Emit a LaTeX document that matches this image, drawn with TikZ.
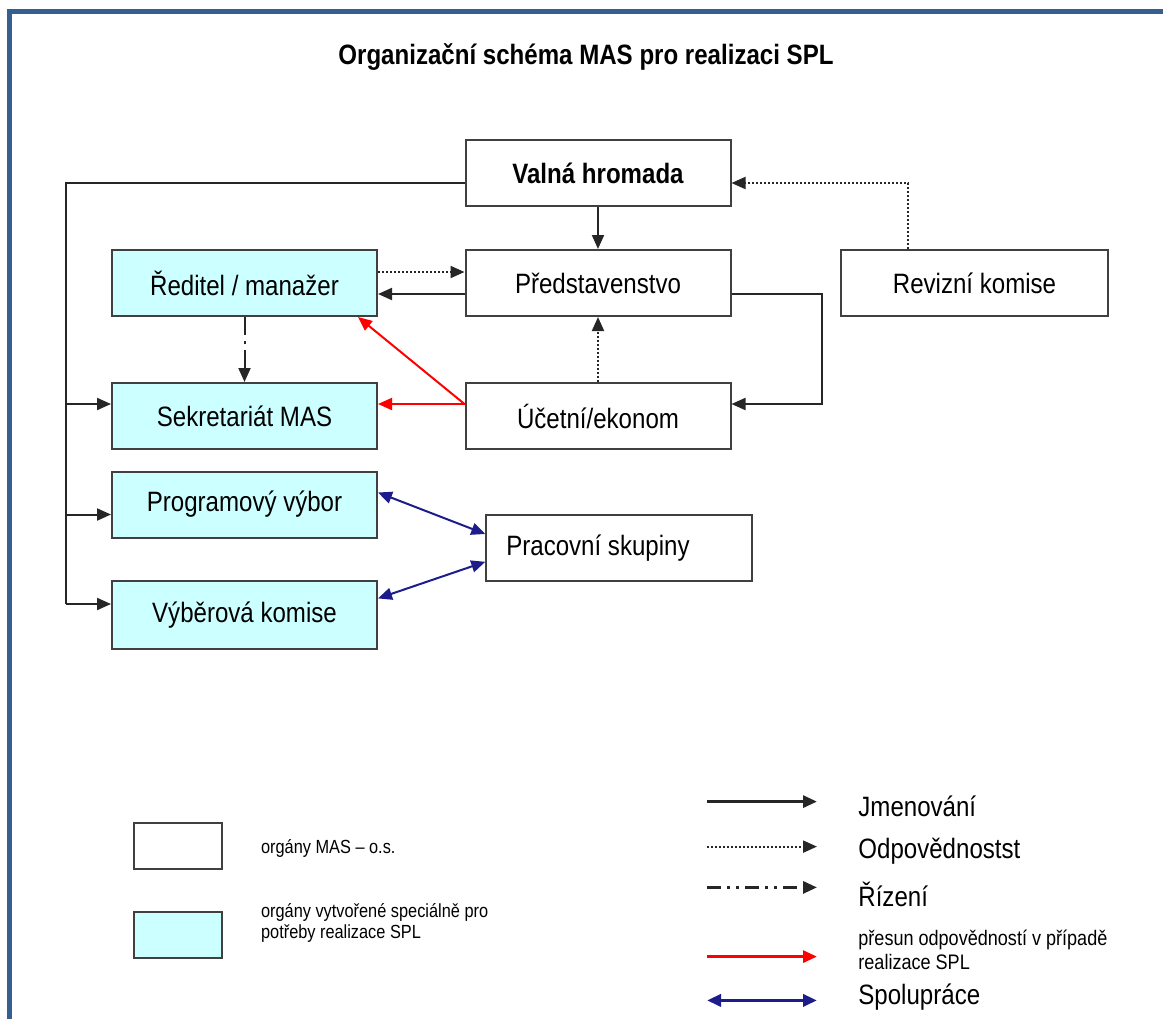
\documentclass[tikz,border=0pt]{standalone}
\usepackage{fontspec}
\setmainfont{Liberation Sans}[FakeStretch=0.86]
\usetikzlibrary{arrows.meta,calc,positioning,shapes}
\definecolor{splmodra}{HTML}{CCFFFF}
\definecolor{ramecek}{HTML}{365F91}
\definecolor{tmavemodra}{HTML}{1C1C8A}
\tikzstyle{organ} = [rectangle, draw=black!75, line width=1pt, fill=white, minimum width=132.5pt, minimum height=33pt, inner sep=0pt, font=\fontsize{14}{17}\selectfont]
\tikzstyle{splorgan} = [organ, fill=splmodra]
\tikzstyle{jmenovani} = [line width=1pt, black!85, -{Triangle[length=7pt,width=6pt]}]
\tikzstyle{odpovednost} = [jmenovani, dash pattern=on 1pt off 1pt]
\tikzstyle{rizeni} = [jmenovani, dash pattern=on 9pt off 3pt on 1.5pt off 3pt]
\tikzstyle{presun} = [jmenovani, red]
\tikzstyle{spoluprace} = [line width=1pt, tmavemodra, {Triangle[length=7pt,width=6pt]}-{Triangle[length=7pt,width=6pt]}]
\tikzstyle{popis} = [inner sep=0pt, anchor=west, align=left, font=\fontsize{14}{17}\selectfont]
\tikzstyle{malypopis} = [popis, font=\fontsize{9.5}{10.5}\selectfont]

\begin{document}
\begin{tikzpicture}[x=0.5pt, y=-0.5pt] %[every node/.style={draw}]
\useasboundingbox (0,0) rectangle (1163,1019);
\draw [ramecek, line width=2.5pt] (9.5,1019) -- (9.5,11.5) -- (1163,11.5);
\draw (586,57) node (nadpis) [font=\fontsize{14}{17}\selectfont\bfseries] {Organizační schéma MAS pro realizaci SPL};
\draw (598,173) node (valna) [organ, font=\fontsize{14}{17}\selectfont\bfseries] {Valná hromada};
\draw (598,283) node (predst) [organ] {Představenstvo};
\draw (244.5,283) node (reditel) [splorgan] {Ředitel / manažer};
\draw (974.5,283) node (revize) [organ, minimum width=133.5pt] {Revizní komise};
\draw (244.5,416) node (sekretariat) [splorgan] {Sekretariát MAS};
\draw (598,416) node (ucetni) [organ] {Účetní/ekonom};
\draw (244.5,504.5) node (program) [splorgan] {Programový výbor};
\draw (244.5,615) node (vyber) [splorgan, minimum height=34pt] {Výběrová komise};
\draw (619.3,548) node (pracovni) [organ, minimum width=133pt] {\makebox[113pt][l]{Pracovní skupiny}};
\draw [jmenovani] (valna) -- (predst);
\draw [odpovednost] ([yshift=5.5pt]reditel.east) -- ([yshift=5.5pt]predst.west);
\draw [jmenovani] ([yshift=-5.5pt]predst.west) -- ([yshift=-5.5pt]reditel.east);
\draw [rizeni] (reditel) -- (sekretariat);
\draw [odpovednost] (ucetni) -- (predst);
\coordinate (presunbod) at ([yshift=6pt]ucetni.west);
\draw [presun] (presunbod) -- (presunbod -| sekretariat.east);
\draw [presun] (presunbod) -- ([xshift=-10pt]reditel.south east);
\draw [odpovednost] ([xshift=34pt]revize.north west) |- ([yshift=-5pt]valna.east);
\draw [jmenovani] ([yshift=-5.5pt]predst.east) -- ++(90,0) |- ([yshift=6pt]ucetni.east);
\coordinate (kmen) at ([xshift=-22.3pt,yshift=5.5pt]vyber.west);
\draw [line width=1pt, black!85] ([yshift=-5pt]valna.west) -| (kmen);
\draw [jmenovani] (kmen |- presunbod) -- (presunbod -| sekretariat.west);
\draw [jmenovani] ([xshift=-22.3pt,yshift=-5pt]program.west) -- ([yshift=-5pt]program.west);
\draw [jmenovani] (kmen) -- ([yshift=5.5pt]vyber.west);
\draw [spoluprace] ([yshift=6pt]program.east) -- ([yshift=7pt]pracovni.west);
\draw [spoluprace] ([yshift=8.3pt]vyber.east) -- ([yshift=-6.9pt]pracovni.west);
\draw (178,846) node (legmas) [organ, minimum width=44pt, minimum height=23pt] {};
\draw (178,935) node (legspl) [splorgan, minimum width=44pt, minimum height=23pt] {};
\draw (260.7,848) node (legmastext) [malypopis] {orgány MAS – o.s.};
\draw (260.7,923) node (legspltext) [malypopis] {orgány vytvořené speciálně pro\\potřeby realizace SPL};
\draw (858,806) node (legjmen) [popis] {Jmenování};
\draw (858,851) node (legodp) [popis] {Odpovědnostst};
\draw (858,894) node (legriz) [popis] {Řízení};
\draw (858,950) node (legpresun) [popis, font=\fontsize{10.5}{12}\selectfont] {přesun odpovědností v případě\\realizace SPL};
\draw (858,997) node (legspol) [popis] {Spolupráce};
\draw [jmenovani, line width=1.5pt] ([xshift=-75.5pt,yshift=2.2pt]legjmen.west) -- ([xshift=-20.5pt,yshift=2.2pt]legjmen.west);
\draw [odpovednost] ([xshift=-75.5pt,yshift=2.2pt]legodp.west) -- ([xshift=-20.5pt,yshift=2.2pt]legodp.west);
\draw [rizeni, line width=1.5pt, dash pattern=on 7pt off 3pt on 1.5pt off 3pt on 1.5pt off 3pt] ([xshift=-75.5pt,yshift=3.3pt]legriz.west) -- ([xshift=-20.5pt,yshift=3.3pt]legriz.west);
\draw [presun, line width=1.5pt] ([xshift=-75.5pt,yshift=-3.3pt]legpresun.west) -- ([xshift=-20.5pt,yshift=-3.3pt]legpresun.west);
\draw [spoluprace, line width=1.8pt] ([xshift=-75.5pt,yshift=-1.7pt]legspol.west) -- ([xshift=-20.5pt,yshift=-1.7pt]legspol.west);
\end{tikzpicture}
\end{document}
